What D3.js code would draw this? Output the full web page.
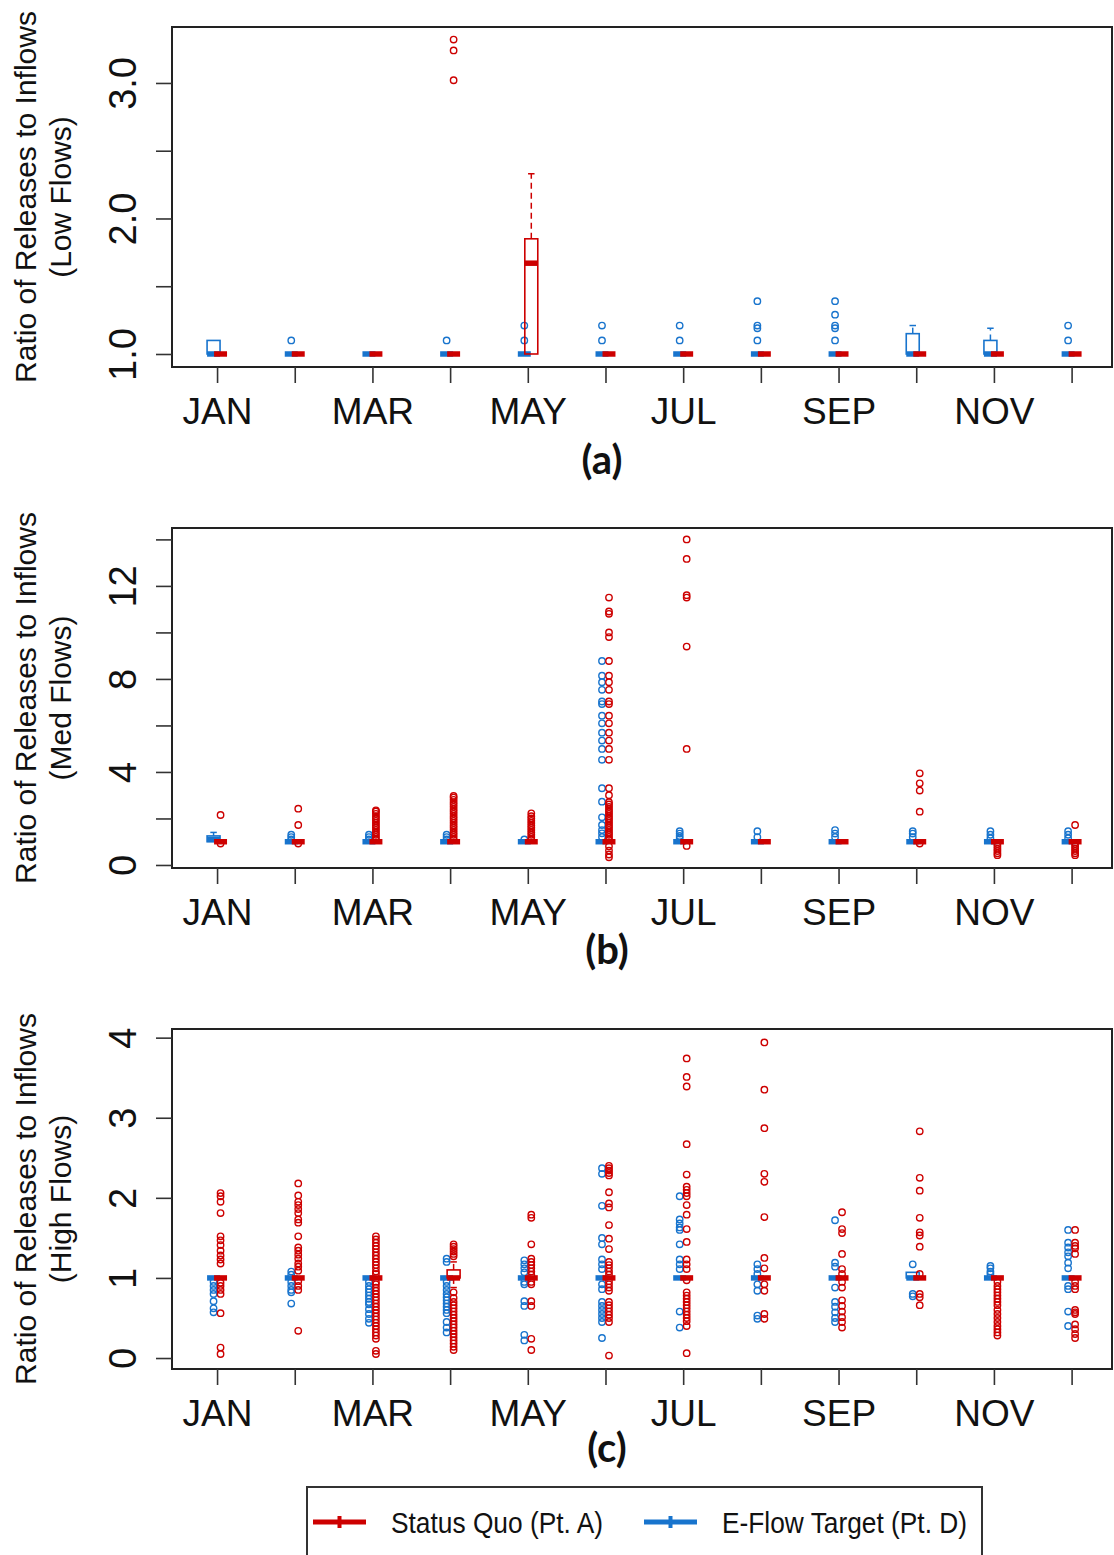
<!DOCTYPE html>
<html lang="en">
<head>
<meta charset="utf-8">
<title>Ratio of Releases to Inflows</title>
<script src="https://cdn.jsdelivr.net/npm/d3@7"></script>
<style>
  body { margin: 0; background: #fff; }
  svg text { font-family: "Liberation Sans", Arial, sans-serif; fill: #111; }
</style>
</head>
<body>
<svg id="chart" width="1114" height="1555"></svg>
<script>
// ---- data ----
var months = ["JAN","FEB","MAR","APR","MAY","JUN","JUL","AUG","SEP","OCT","NOV","DEC"];
var monthLabels = ["JAN","","MAR","","MAY","","JUL","","SEP","","NOV",""];

var lowTicks = [1.0, 1.5, 2.0, 2.5, 3.0];
var lowTickLabels = ["1.0", "", "2.0", "", "3.0"];
var medTicks = [0, 2, 4, 6, 8, 10, 12, 14];
var medTickLabels = ["0", "", "4", "", "8", "", "12", ""];
var highTicks = [0, 1, 2, 3, 4];
var highTickLabels = ["0", "1", "2", "3", "4"];

// box stats per month: [lower whisker, Q1, median, Q3, upper whisker]
// (a) low flows
var lowEF_box = [[1,1,1,1.10,1.10],[1,1,1,1,1],[1,1,1,1,1],[1,1,1,1,1],[1,1,1,1,1],[1,1,1,1,1],
                 [1,1,1,1,1],[1,1,1,1,1],[1,1,1,1,1],[1,1,1,1.15,1.21],[1,1,1,1.10,1.19],[1,1,1,1,1]];
var lowEF_out = [[],[1.10],[],[1.10],[1.10,1.21],[1.10,1.21],[1.10,1.21],[1.10,1.19,1.21,1.39],
                 [1.10,1.19,1.21,1.29,1.39],[],[],[1.10,1.21]];
var lowSQ_box = [[1,1,1,1,1],[1,1,1,1,1],[1,1,1,1,1],[1,1,1,1,1],[1,1,1.67,1.85,2.33],[1,1,1,1,1],
                 [1,1,1,1,1],[1,1,1,1,1],[1,1,1,1,1],[1,1,1,1,1],[1,1,1,1,1],[1,1,1,1,1]];
var lowSQ_out = [[],[],[],[3.02,3.24,3.32],[],[],[],[],[],[],[],[]];

// (b) medium flows
var medEF_box = [[1,1,1.1,1.25,1.4],[1,1,1,1,1],[1,1,1,1,1],[1,1,1,1,1],[1,1,1,1,1],[1,1,1,1,1],
                 [1,1,1,1,1],[1,1,1,1,1],[1,1,1,1,1],[1,1,1,1,1],[1,1,1,1,1],[1,1,1,1,1]];
var medEF_out = [[],[1.1,1.2,1.3],[1.1,1.2,1.3],[1.1,1.2,1.3],[1.1],
                 [8.77,8.14,7.86,7.53,7.03,6.92,6.42,6.09,5.69,5.35,4.99,4.52,3.30,2.72,2.05,1.72,1.5,1.36,1.2],
                 [1.15,1.25,1.35,1.45],[1.2,1.45],[1.2,1.35,1.5],[1.2,1.35,1.45],[1.15,1.3,1.45],[1.15,1.3,1.45]];
var medSQ_box = [[1,1,1,1,1],[1,1,1,1,1],[1,1,1,1,1],[1,1,1,1,1],[1,1,1,1,1],[1,1,1,1,1],
                 [1,1,1,1,1],[1,1,1,1,1],[1,1,1,1,1],[1,1,1,1,1],[1,1,1,1,1],[1,1,1,1,1]];
var medSQ_out = [
  [2.15,0.92],
  [2.42,1.72,0.92],
  [1.1,1.2,1.3,1.4,1.5,1.6,1.7,1.8,1.9,2.0,2.1,2.2,2.3,2.35],
  [1.1,1.2,1.3,1.4,1.5,1.6,1.7,1.8,1.9,2.0,2.1,2.2,2.3,2.4,2.5,2.6,2.7,2.8,2.9,2.97],
  [1.1,1.2,1.3,1.4,1.5,1.6,1.7,1.8,1.9,2.0,2.1,2.22],
  [11.5,10.9,10.8,10.0,9.8,8.77,8.14,7.86,7.53,7.03,6.92,6.42,6.09,5.69,5.35,4.99,4.52,3.30,3.0,
   2.7,2.6,2.5,2.4,2.3,2.2,2.1,2.0,1.9,1.8,1.7,1.6,1.5,1.4,1.3,1.2,1.1,0.8,0.62,0.45,0.33],
  [14.0,13.16,11.6,11.5,9.39,4.99,0.82],
  [],
  [],
  [3.94,3.51,3.2,2.29,0.92],
  [0.9,0.8,0.7,0.6,0.5,0.42],
  [1.72,0.9,0.8,0.7,0.6,0.5,0.42]
];

// (c) high flows
var highEF_box = [[1,1,1,1,1],[1,1,1,1,1],[1,1,1,1,1],[1,1,1,1,1],[1,1,1,1,1],[1,1,1,1,1],
                  [1,1,1,1,1],[1,1,1,1,1],[1,1,1,1,1],[1,1,1,1.07,1.07],[1,1,1,1,1],[1,1,1,1,1]];
var highEF_out = [
  [0.95,0.9,0.85,0.8,0.71,0.62,0.57],
  [1.08,1.04,0.95,0.9,0.85,0.82,0.68],
  [0.95,0.9,0.86,0.82,0.78,0.74,0.7,0.67,0.61,0.55,0.49,0.44],
  [1.24,1.2,0.95,0.9,0.85,0.8,0.76,0.72,0.68,0.64,0.6,0.56,0.45,0.38,0.32],
  [1.22,1.17,1.12,1.07,0.95,0.92,0.71,0.65,0.29,0.22],
  [2.37,2.3,1.9,1.5,1.42,1.23,1.17,1.11,0.92,0.86,0.7,0.65,0.6,0.55,0.5,0.45,0.25],
  [2.02,1.73,1.68,1.63,1.6,1.42,1.23,1.17,1.11,0.58,0.38],
  [1.17,1.11,1.05,0.92,0.84,0.53,0.49],
  [1.72,1.19,1.14,0.88,0.7,0.64,0.57,0.5,0.45],
  [1.17,0.8,0.77],
  [1.15,1.12,1.08,1.05],
  [1.6,1.44,1.38,1.32,1.27,1.19,1.12,0.9,0.86,0.58,0.4]
];
var highSQ_box = [[1,1,1,1,1],[1,1,1,1,1],[1,1,1,1,1],[0.88,1,1,1.1,1.2],[1,1,1,1,1],[1,1,1,1,1],
                  [1,1,1,1,1],[1,1,1,1,1],[1,1,1,1,1],[1,1,1,1,1],[1,1,1,1,1],[1,1,1,1,1]];
var highSQ_out = [
  [2.06,2.02,1.95,1.81,1.52,1.47,1.41,1.34,1.28,1.23,1.18,0.94,0.9,0.85,0.8,0.56,0.13,0.05],
  [2.18,2.03,1.95,1.91,1.86,1.81,1.73,1.69,1.52,1.38,1.34,1.29,1.24,1.18,1.14,1.09,0.96,0.9,0.85,0.34],
  [1.52,1.48,1.44,1.4,1.36,1.32,1.28,1.24,1.2,1.16,1.12,1.08,1.05,0.95,0.92,0.88,0.84,0.8,0.76,0.72,
   0.68,0.64,0.6,0.56,0.52,0.48,0.44,0.4,0.36,0.32,0.28,0.24,0.09,0.05],
  [1.42,1.39,1.36,1.33,1.3,1.27,0.82,0.75,0.7,0.66,0.62,0.58,0.54,0.5,0.46,0.42,0.38,0.34,0.3,0.26,
   0.22,0.18,0.14,0.1],
  [1.79,1.75,1.42,1.24,1.2,1.16,1.12,1.08,1.04,0.95,0.92,0.71,0.65,0.24,0.1],
  [2.4,2.37,2.34,2.31,2.28,2.07,1.93,1.88,1.66,1.49,1.36,1.2,1.16,1.12,1.08,1.04,0.96,0.92,0.88,0.84,
   0.7,0.66,0.62,0.58,0.54,0.5,0.45,0.03],
  [3.74,3.51,3.39,2.67,2.29,2.14,2.1,2.06,2.02,1.91,1.79,1.61,1.45,1.23,1.17,1.11,0.97,0.82,0.78,0.74,
   0.7,0.66,0.62,0.58,0.54,0.5,0.46,0.4,0.06],
  [3.94,3.35,2.87,2.3,2.2,1.76,1.25,1.12,0.92,0.84,0.55,0.49],
  [1.82,1.61,1.56,1.3,1.11,1.05,0.95,0.88,0.72,0.65,0.58,0.51,0.45,0.38],
  [2.83,2.25,2.09,1.75,1.57,1.53,1.39,1.05,0.8,0.76,0.66],
  [0.95,0.9,0.86,0.82,0.78,0.74,0.7,0.66,0.6,0.55,0.5,0.45,0.4,0.36,0.32,0.28],
  [1.6,1.44,1.4,1.37,1.3,0.95,0.9,0.86,0.6,0.57,0.55,0.42,0.36,0.3,0.25]
];

var seriesNames = ["Status Quo (Pt. A)", "E-Flow Target (Pt. D)"];

// ---- layout ----
var RED = "#cd0000", BLUE = "#1874cd";
var left = 172, right = 1112, plotH = 340;

var panels = [
  {top: 27, domain: [0.904, 3.413], ticks: lowTicks, tickLabels: lowTickLabels,
   ef: [lowEF_box, lowEF_out], sq: [lowSQ_box, lowSQ_out], sub: "(Low Flows)", tag: "(a)", tagX: 602, tagY: 474},
  {top: 528, domain: [-0.13, 14.49], ticks: medTicks, tickLabels: medTickLabels,
   ef: [medEF_box, medEF_out], sq: [medSQ_box, medSQ_out], sub: "(Med Flows)", tag: "(b)", tagX: 607, tagY: 964},
  {top: 1029, domain: [-0.137, 4.108], ticks: highTicks, tickLabels: highTickLabels,
   ef: [highEF_box, highEF_out], sq: [highSQ_box, highSQ_out], sub: "(High Flows)", tag: "(c)", tagX: 607, tagY: 1462}
];

var svg = d3.select("#chart");

var x = d3.scaleLinear().domain([0.42, 12.52]).range([left, right]);
var boxHalf = 0.0835;   // half box width, in month units
var shift = 0.045;      // side-by-side offset

function drawSeries(g, y, stats, outs, off, color) {
  stats.forEach(function(st, i) {
    var c = x(i + 1 + off), hw = x(i + 1 + off + boxHalf) - c;
    var lo = st[0], q1 = st[1], med = st[2], q3 = st[3], hi = st[4];
    // whiskers + staples
    [[q3, hi], [q1, lo]].forEach(function(w) {
      if (w[0] === w[1]) return;
      g.append("line").attr("x1", c).attr("x2", c).attr("y1", y(w[0])).attr("y2", y(w[1]))
        .attr("stroke", color).attr("stroke-width", 1.5).attr("stroke-dasharray", "6,4");
      g.append("line").attr("x1", c - hw / 2).attr("x2", c + hw / 2).attr("y1", y(w[1])).attr("y2", y(w[1]))
        .attr("stroke", color).attr("stroke-width", 1.5);
    });
    // box
    g.append("rect").attr("x", c - hw).attr("width", 2 * hw)
      .attr("y", y(q3)).attr("height", Math.max(0, y(q1) - y(q3)))
      .attr("fill", "none").attr("stroke", color).attr("stroke-width", 1.6);
    // median
    g.append("line").attr("x1", c - hw).attr("x2", c + hw).attr("y1", y(med)).attr("y2", y(med))
      .attr("stroke", color).attr("stroke-width", 5.5);
    // outliers
    g.selectAll(null).data(outs[i]).enter().append("circle")
      .attr("cx", c).attr("cy", function(d) { return y(d); }).attr("r", 3.2)
      .attr("fill", "none").attr("stroke", color).attr("stroke-width", 1.4);
  });
}

panels.forEach(function(p) {
  var g = svg.append("g");
  var y = d3.scaleLinear().domain(p.domain).range([p.top + plotH, p.top]);

  drawSeries(g, y, p.ef[0], p.ef[1], -shift, BLUE);
  drawSeries(g, y, p.sq[0], p.sq[1], shift, RED);

  // frame
  g.append("rect").attr("x", left).attr("y", p.top).attr("width", right - left).attr("height", plotH)
    .attr("fill", "none").attr("stroke", "#222").attr("stroke-width", 2);

  // y axis
  var ya = g.append("g").attr("transform", "translate(" + left + ",0)")
    .call(d3.axisLeft(y).tickValues(p.ticks).tickSize(16)
      .tickFormat(function(d, i) { return p.tickLabels[i]; }));
  ya.attr("font-family", null).attr("font-size", null);
  ya.select(".domain").remove();
  ya.selectAll("line").attr("stroke", "#333").attr("stroke-width", 1.6);
  ya.selectAll("text").attr("x", null).attr("dy", null)
    .attr("transform", "translate(-36,0) rotate(-90)").attr("text-anchor", "middle")
    .attr("font-size", 38).attr("fill", "#111");

  // x axis
  var xa = g.append("g").attr("transform", "translate(0," + (p.top + plotH) + ")")
    .call(d3.axisBottom(x).tickValues(months.map(function(m, i) { return i + 1; })).tickSize(16)
      .tickFormat(function(d, i) { return monthLabels[i]; }));
  xa.attr("font-family", null).attr("font-size", null);
  xa.select(".domain").remove();
  xa.selectAll("line").attr("stroke", "#333").attr("stroke-width", 1.6);
  xa.selectAll("text").attr("y", 57).attr("dy", null).attr("font-size", 37).attr("fill", "#111");

  // y title
  var cy = p.top + plotH / 2;
  var t = g.append("text").attr("transform", "translate(0," + cy + ") rotate(-90)")
    .attr("text-anchor", "middle").attr("font-size", 30);
  t.append("tspan").attr("x", 0).attr("y", 36).text("Ratio of Releases to Inflows");
  t.append("tspan").attr("x", 0).attr("y", 71).text(p.sub);

  // panel tag
  g.append("text").attr("x", p.tagX).attr("y", p.tagY).attr("text-anchor", "middle")
    .style("font-family", "Lato, 'Open Sans', sans-serif").style("font-weight", "bold")
    .attr("font-size", 40).text(p.tag);
});

// legend
var lg = svg.append("g");
lg.append("rect").attr("x", 307).attr("y", 1487).attr("width", 675).attr("height", 90)
  .attr("fill", "#fff").attr("stroke", "#333").attr("stroke-width", 2);
var items = [
  {name: seriesNames[0], color: RED, x0: 313, x1: 366, tx: 391, tl: 212},
  {name: seriesNames[1], color: BLUE, x0: 644, x1: 697, tx: 722, tl: 245}
];
items.forEach(function(it) {
  var ly = 1522, mid = (it.x0 + it.x1) / 2;
  lg.append("line").attr("x1", it.x0).attr("x2", it.x1).attr("y1", ly).attr("y2", ly)
    .attr("stroke", it.color).attr("stroke-width", 5);
  lg.append("line").attr("x1", mid).attr("x2", mid).attr("y1", ly - 6).attr("y2", ly + 6)
    .attr("stroke", it.color).attr("stroke-width", 4);
  lg.append("text").attr("x", it.tx).attr("y", 1533).attr("font-size", 29)
    .attr("textLength", it.tl).attr("lengthAdjust", "spacingAndGlyphs").text(it.name);
});
</script>
</body>
</html>
